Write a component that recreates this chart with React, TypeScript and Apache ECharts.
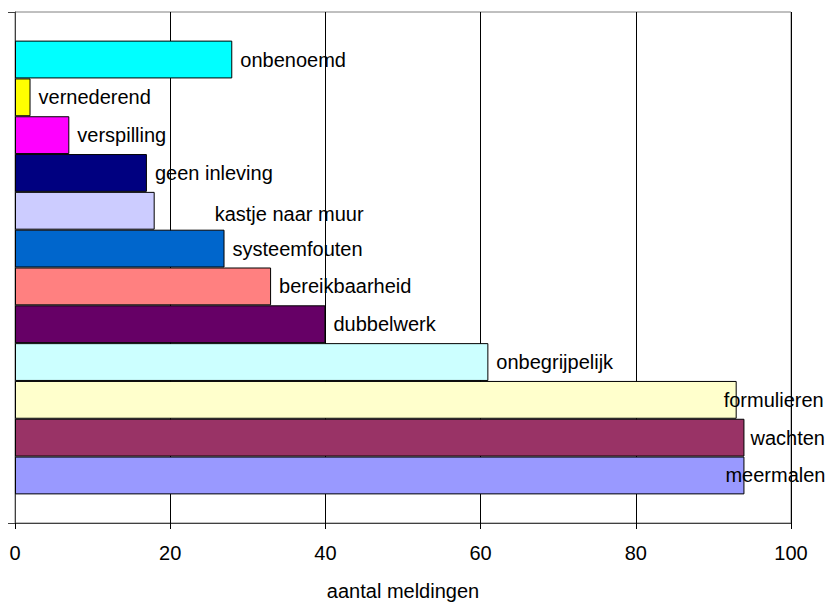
import React, { useEffect, useRef } from "react";
import * as echarts from "echarts";

const categories = [
  "onbenoemd",
  "vernederend",
  "verspilling",
  "geen inleving",
  "kastje naar muur",
  "systeemfouten",
  "bereikbaarheid",
  "dubbelwerk",
  "onbegrijpelijk",
  "formulieren",
  "wachten",
  "meermalen",
];
const values = [28, 2, 7, 17, 18, 27, 33, 40, 61, 93, 94, 94];
const xTicks = [0, 20, 40, 60, 80, 100];
const axisTitle = "aantal meldingen";

const colors = [
  "#00FFFF",
  "#FFFF00",
  "#FF00FF",
  "#000080",
  "#CCCCFF",
  "#0066CC",
  "#FF8080",
  "#660066",
  "#CCFFFF",
  "#FFFFCC",
  "#993366",
  "#9999FF",
];
const labelOffsets: Record<string, [number, number]> = {
  "kastje naar muur": [52, 3],
  formulieren: [-21, 0],
  wachten: [-2, 0],
  meermalen: [-27, 0],
};

const FONT = 'Arial, "Liberation Sans", sans-serif';

export default function App() {
  const ref = useRef<HTMLDivElement>(null);
  useEffect(() => {
    document.body.style.margin = "0";
    const chart = echarts.init(ref.current!, undefined, { renderer: "svg" });
    const series = categories.map((name, i) => ({
      name,
      type: "bar",
      data: [values[i]],
      barGap: "0%",
      barCategoryGap: "11.2%",
      itemStyle: { color: colors[i], borderColor: "#000", borderWidth: 1 },
      label: {
        show: true,
        position: "right",
        distance: 8,
        offset: labelOffsets[name] || [0, 0],
        formatter: name,
        color: "#000",
        fontSize: 20,
        fontFamily: FONT,
      },
    }));
    chart.setOption({
      animation: false,
      backgroundColor: "#fff",
      grid: {
        left: 15,
        top: 12,
        right: 36,
        bottom: 76,
        show: true,
        borderColor: "#808080",
        borderWidth: 1,
      },
      xAxis: {
        type: "value",
        min: xTicks[0],
        max: xTicks[xTicks.length - 1],
        interval: xTicks[1] - xTicks[0],
        name: axisTitle,
        nameLocation: "middle",
        nameGap: 58,
        nameTextStyle: { fontSize: 20, color: "#000", fontFamily: FONT },
        axisLine: { show: true, lineStyle: { color: "#404040", width: 1 } },
        axisTick: { show: true, length: 6, lineStyle: { color: "#000" } },
        axisLabel: { fontSize: 20, color: "#000", fontFamily: FONT, margin: 20 },
        splitLine: { show: true, lineStyle: { color: "#000", width: 1 } },
      },
      yAxis: {
        type: "category",
        data: [""],
        axisLine: { show: true, lineStyle: { color: "#404040", width: 1 } },
        axisTick: { show: true, length: 7, lineStyle: { color: "#404040" } },
        axisLabel: { show: false },
        splitLine: { show: false },
      },
      series,
    });
    return () => chart.dispose();
  }, []);
  return <div ref={ref} style={{ width: 827, height: 606 }} />;
}
